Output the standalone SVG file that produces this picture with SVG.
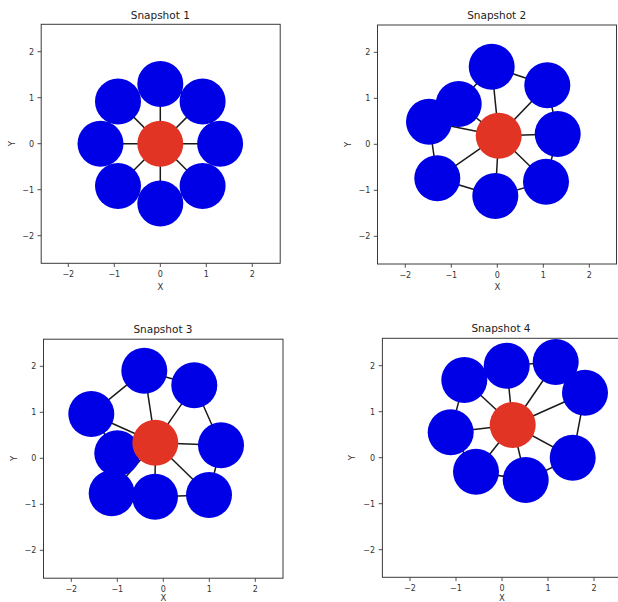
<svg xmlns="http://www.w3.org/2000/svg" width="618" height="602" viewBox="0 0 618 602">
<style>
.bg{fill:#ffffff}
.frame{fill:none;stroke:#3a3a3a;stroke-width:1}
.tick{stroke:#3a3a3a;stroke-width:0.9}
.tl{font-family:"DejaVu Sans",sans-serif;font-size:8px;fill:#333}
.ttl{font-family:"DejaVu Sans",sans-serif;font-size:10.5px;fill:#222;text-anchor:middle}
.ax{font-family:"DejaVu Sans",sans-serif;font-size:8.5px;fill:#333;text-anchor:middle}
.edge{stroke:#1a1a1a;stroke-width:1.5;fill:none}
.blue{fill:#0000e6}
.red{fill:#e23424}
</style>
<rect class="bg" x="0" y="0" width="618" height="602"/>

<!-- Panel 1 -->
<g id="panel1">
<rect class="frame" x="41.2" y="24.3" width="239" height="239"/>
<g class="tick">
<line x1="68.3" y1="263.3" x2="68.3" y2="267"/><line x1="114.3" y1="263.3" x2="114.3" y2="267"/><line x1="160.3" y1="263.3" x2="160.3" y2="267"/><line x1="206.3" y1="263.3" x2="206.3" y2="267"/><line x1="252.3" y1="263.3" x2="252.3" y2="267"/>
<line x1="37.5" y1="51.7" x2="41.2" y2="51.7"/><line x1="37.5" y1="97.7" x2="41.2" y2="97.7"/><line x1="37.5" y1="143.7" x2="41.2" y2="143.7"/><line x1="37.5" y1="189.7" x2="41.2" y2="189.7"/><line x1="37.5" y1="235.7" x2="41.2" y2="235.7"/>
</g>
<g class="tl" text-anchor="middle">
<text x="68.3" y="277">−2</text><text x="114.3" y="277">−1</text><text x="160.3" y="277">0</text><text x="206.3" y="277">1</text><text x="252.3" y="277">2</text>
</g>
<g class="tl" text-anchor="end">
<text x="34" y="54.6">2</text><text x="34" y="100.6">1</text><text x="34" y="146.6">0</text><text x="34" y="192.6">−1</text><text x="34" y="238.6">−2</text>
</g>
<text class="ax" x="160.3" y="289.5">X</text>
<text class="ax" transform="translate(14.5,143.7) rotate(-90)">Y</text>
<text class="ttl" x="160.3" y="18.5">Snapshot 1</text>
<g id="edges1" class="edge">
<line x1="160.3" y1="143.7" x2="220.1" y2="143.7"/><line x1="160.3" y1="143.7" x2="202.6" y2="101.4"/><line x1="160.3" y1="143.7" x2="160.3" y2="83.9"/><line x1="160.3" y1="143.7" x2="118" y2="101.4"/><line x1="160.3" y1="143.7" x2="100.5" y2="143.7"/><line x1="160.3" y1="143.7" x2="118" y2="186"/><line x1="160.3" y1="143.7" x2="160.3" y2="203.5"/><line x1="160.3" y1="143.7" x2="202.6" y2="186"/>
<polygon points="220.1,143.7 202.6,101.4 160.3,83.9 118,101.4 100.5,143.7 118,186 160.3,203.5 202.6,186"/>
</g>
<g id="p1n0"><circle class="blue" cx="220.1" cy="143.7" r="23"/></g>
<g id="p1n1"><circle class="blue" cx="202.6" cy="101.4" r="23"/></g>
<g id="p1n2"><circle class="blue" cx="160.3" cy="83.9" r="23"/></g>
<g id="p1n3"><circle class="blue" cx="118" cy="101.4" r="23"/></g>
<g id="p1n4"><circle class="blue" cx="100.5" cy="143.7" r="23"/></g>
<g id="p1n5"><circle class="blue" cx="118" cy="186" r="23"/></g>
<g id="p1n6"><circle class="blue" cx="160.3" cy="203.5" r="23"/></g>
<g id="p1n7"><circle class="blue" cx="202.6" cy="186" r="23"/></g>
<g id="p1c"><circle class="red" cx="160.3" cy="143.7" r="23"/></g>
</g>

<!-- Panel 2 -->
<g id="panel2">
<rect class="frame" x="377.5" y="25" width="239" height="239"/>
<g class="tick">
<line x1="405.3" y1="264" x2="405.3" y2="267.7"/><line x1="451.3" y1="264" x2="451.3" y2="267.7"/><line x1="497.3" y1="264" x2="497.3" y2="267.7"/><line x1="543.3" y1="264" x2="543.3" y2="267.7"/><line x1="589.3" y1="264" x2="589.3" y2="267.7"/>
<line x1="373.8" y1="52.3" x2="377.5" y2="52.3"/><line x1="373.8" y1="98.3" x2="377.5" y2="98.3"/><line x1="373.8" y1="144.3" x2="377.5" y2="144.3"/><line x1="373.8" y1="190.3" x2="377.5" y2="190.3"/><line x1="373.8" y1="236.3" x2="377.5" y2="236.3"/>
</g>
<g class="tl" text-anchor="middle">
<text x="405.3" y="277.7">−2</text><text x="451.3" y="277.7">−1</text><text x="497.3" y="277.7">0</text><text x="543.3" y="277.7">1</text><text x="589.3" y="277.7">2</text>
</g>
<g class="tl" text-anchor="end">
<text x="370.3" y="55.2">2</text><text x="370.3" y="101.2">1</text><text x="370.3" y="147.2">0</text><text x="370.3" y="193.2">−1</text><text x="370.3" y="239.2">−2</text>
</g>
<text class="ax" x="497.3" y="290.2">X</text>
<text class="ax" transform="translate(350.5,144.3) rotate(-90)">Y</text>
<text class="ttl" x="496.7" y="18.5">Snapshot 2</text>
<g id="edges2" class="edge">
<line x1="498.7" y1="135.7" x2="557.7" y2="134"/><line x1="498.7" y1="135.7" x2="547.3" y2="85.3"/><line x1="498.7" y1="135.7" x2="491.7" y2="66.7"/><line x1="498.7" y1="135.7" x2="458.7" y2="104"/><line x1="498.7" y1="135.7" x2="429" y2="121.7"/><line x1="498.7" y1="135.7" x2="437.3" y2="178.3"/><line x1="498.7" y1="135.7" x2="495.3" y2="196"/><line x1="498.7" y1="135.7" x2="546" y2="181.7"/>
<polygon points="557.7,134 547.3,85.3 491.7,66.7 458.7,104 429,121.7 437.3,178.3 495.3,196 546,181.7"/>
</g>
<g id="p2n0"><circle class="blue" cx="557.7" cy="134" r="23"/></g>
<g id="p2n1"><circle class="blue" cx="547.3" cy="85.3" r="23"/></g>
<g id="p2n2"><circle class="blue" cx="491.7" cy="66.7" r="23"/></g>
<g id="p2n3"><circle class="blue" cx="458.7" cy="104" r="23"/></g>
<g id="p2n4"><circle class="blue" cx="429" cy="121.7" r="23"/></g>
<g id="p2n5"><circle class="blue" cx="437.3" cy="178.3" r="23"/></g>
<g id="p2n6"><circle class="blue" cx="495.3" cy="196" r="23"/></g>
<g id="p2n7"><circle class="blue" cx="546" cy="181.7" r="23"/></g>
<g id="p2c"><circle class="red" cx="498.7" cy="135.7" r="23"/></g>
</g>

<!-- Panel 3 -->
<g id="panel3">
<rect class="frame" x="43.5" y="339.2" width="239.5" height="239"/>
<g class="tick">
<line x1="71.3" y1="578.2" x2="71.3" y2="581.9"/><line x1="117.3" y1="578.2" x2="117.3" y2="581.9"/><line x1="163.3" y1="578.2" x2="163.3" y2="581.9"/><line x1="209.3" y1="578.2" x2="209.3" y2="581.9"/><line x1="255.3" y1="578.2" x2="255.3" y2="581.9"/>
<line x1="39.8" y1="366.3" x2="43.5" y2="366.3"/><line x1="39.8" y1="412.3" x2="43.5" y2="412.3"/><line x1="39.8" y1="458.3" x2="43.5" y2="458.3"/><line x1="39.8" y1="504.3" x2="43.5" y2="504.3"/><line x1="39.8" y1="550.3" x2="43.5" y2="550.3"/>
</g>
<g class="tl" text-anchor="middle">
<text x="71.3" y="591.5">−2</text><text x="117.3" y="591.5">−1</text><text x="163.3" y="591.5">0</text><text x="209.3" y="591.5">1</text><text x="255.3" y="591.5">2</text>
</g>
<g class="tl" text-anchor="end">
<text x="36.3" y="369.2">2</text><text x="36.3" y="415.2">1</text><text x="36.3" y="461.2">0</text><text x="36.3" y="507.2">−1</text><text x="36.3" y="553.2">−2</text>
</g>
<text class="ax" x="163.3" y="601.3">X</text>
<text class="ax" transform="translate(16.5,458.3) rotate(-90)">Y</text>
<text class="ttl" x="163" y="333">Snapshot 3</text>
<g id="edges3" class="edge">
<line x1="155.3" y1="442.7" x2="221" y2="445.3"/><line x1="155.3" y1="442.7" x2="194.3" y2="385.3"/><line x1="155.3" y1="442.7" x2="144.3" y2="370.7"/><line x1="155.3" y1="442.7" x2="91.3" y2="414"/><line x1="155.3" y1="442.7" x2="117.3" y2="453.3"/><line x1="155.3" y1="442.7" x2="111.7" y2="493.3"/><line x1="155.3" y1="442.7" x2="155" y2="496.7"/><line x1="155.3" y1="442.7" x2="209" y2="495"/>
<polygon points="221,445.3 194.3,385.3 144.3,370.7 91.3,414 117.3,453.3 111.7,493.3 155,496.7 209,495"/>
</g>
<g id="p3n0"><circle class="blue" cx="221" cy="445.3" r="23"/></g>
<g id="p3n1"><circle class="blue" cx="194.3" cy="385.3" r="23"/></g>
<g id="p3n2"><circle class="blue" cx="144.3" cy="370.7" r="23"/></g>
<g id="p3n3"><circle class="blue" cx="91.3" cy="414" r="23"/></g>
<g id="p3n4"><circle class="blue" cx="117.3" cy="453.3" r="23"/></g>
<g id="p3n5"><circle class="blue" cx="111.7" cy="493.3" r="23"/></g>
<g id="p3n6"><circle class="blue" cx="155" cy="496.7" r="23"/></g>
<g id="p3n7"><circle class="blue" cx="209" cy="495" r="23"/></g>
<g id="p3c"><circle class="red" cx="155.3" cy="442.7" r="23"/></g>
</g>

<!-- Panel 4 -->
<g id="panel4">
<rect class="frame" x="382.4" y="338.3" width="239.2" height="239"/>
<g class="tick">
<line x1="410" y1="577.3" x2="410" y2="581"/><line x1="456" y1="577.3" x2="456" y2="581"/><line x1="502" y1="577.3" x2="502" y2="581"/><line x1="548" y1="577.3" x2="548" y2="581"/><line x1="594" y1="577.3" x2="594" y2="581"/>
<line x1="378.7" y1="365.7" x2="382.4" y2="365.7"/><line x1="378.7" y1="411.7" x2="382.4" y2="411.7"/><line x1="378.7" y1="457.7" x2="382.4" y2="457.7"/><line x1="378.7" y1="503.7" x2="382.4" y2="503.7"/><line x1="378.7" y1="549.7" x2="382.4" y2="549.7"/>
</g>
<g class="tl" text-anchor="middle">
<text x="410" y="590.5">−2</text><text x="456" y="590.5">−1</text><text x="502" y="590.5">0</text><text x="548" y="590.5">1</text><text x="594" y="590.5">2</text>
</g>
<g class="tl" text-anchor="end">
<text x="375" y="368.6">2</text><text x="375" y="414.6">1</text><text x="375" y="460.6">0</text><text x="375" y="506.6">−1</text><text x="375" y="552.6">−2</text>
</g>
<text class="ax" x="502" y="601.3">X</text>
<text class="ax" transform="translate(354.5,457.7) rotate(-90)">Y</text>
<text class="ttl" x="501" y="332">Snapshot 4</text>
<g id="edges4" class="edge">
<line x1="512.7" y1="425" x2="585" y2="392.7"/><line x1="512.7" y1="425" x2="555.7" y2="362"/><line x1="512.7" y1="425" x2="506.7" y2="365.7"/><line x1="512.7" y1="425" x2="464.3" y2="380"/><line x1="512.7" y1="425" x2="450.7" y2="432.3"/><line x1="512.7" y1="425" x2="476" y2="471.7"/><line x1="512.7" y1="425" x2="525.7" y2="480"/><line x1="512.7" y1="425" x2="572.7" y2="457.7"/>
<polygon points="585,392.7 555.7,362 506.7,365.7 464.3,380 450.7,432.3 476,471.7 525.7,480 572.7,457.7"/>
</g>
<g id="p4n0"><circle class="blue" cx="585" cy="392.7" r="23"/></g>
<g id="p4n1"><circle class="blue" cx="555.7" cy="362" r="23"/></g>
<g id="p4n2"><circle class="blue" cx="506.7" cy="365.7" r="23"/></g>
<g id="p4n3"><circle class="blue" cx="464.3" cy="380" r="23"/></g>
<g id="p4n4"><circle class="blue" cx="450.7" cy="432.3" r="23"/></g>
<g id="p4n5"><circle class="blue" cx="476" cy="471.7" r="23"/></g>
<g id="p4n6"><circle class="blue" cx="525.7" cy="480" r="23"/></g>
<g id="p4n7"><circle class="blue" cx="572.7" cy="457.7" r="23"/></g>
<g id="p4c"><circle class="red" cx="512.7" cy="425" r="23"/></g>
</g>
</svg>
